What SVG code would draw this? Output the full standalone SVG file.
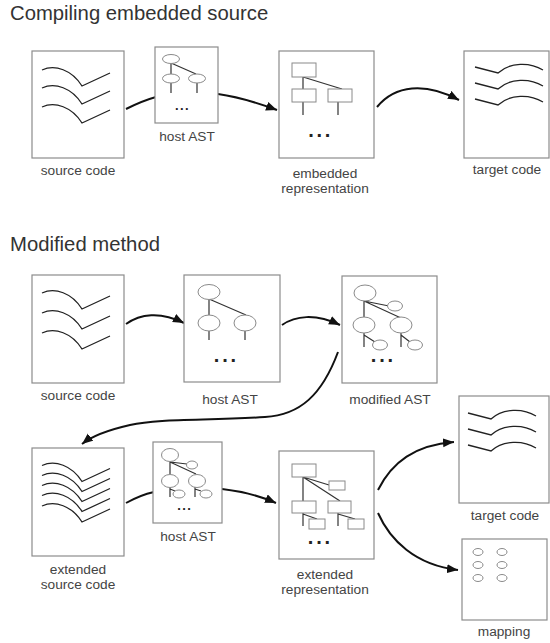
<svg xmlns="http://www.w3.org/2000/svg" xmlns:xlink="http://www.w3.org/1999/xlink" width="550" height="643" viewBox="0 0 550 643">
  <style>
    .title { font-family: "Liberation Sans", Arial, sans-serif; font-size: 20.3px; fill: #333; }
    .lbl { font-family: "Liberation Sans", Arial, sans-serif; font-size: 13.7px; fill: #444; text-anchor: middle; }
    .box { fill: #fff; stroke: #8c8c8c; stroke-width: 1.2; }
    .code { fill: none; stroke: #222; stroke-width: 1.3; }
    .tl { fill: none; stroke: #333; stroke-width: 1.2; }
    .nd { fill: #fff; stroke: #8a8a8a; stroke-width: 1; }
    .edge { fill: none; stroke: #111; stroke-width: 2; }
    .head { marker-end: url(#arrow); }
    .dots { font-family: "Liberation Sans", Arial, sans-serif; font-weight: bold; fill: #222; text-anchor: middle; }
    .big { font-size: 20px; letter-spacing: 2.8px; }
    .small { font-size: 13px; letter-spacing: 1.4px; }
  </style>
  <defs>
    <marker id="arrow" markerUnits="userSpaceOnUse" markerWidth="12" markerHeight="10" refX="11" refY="4.5" orient="auto">
      <path d="M0,0 L11,4.5 L0,9 z" fill="#111"/>
    </marker>
    <!-- one line of source text: arc, dip, rising tail -->
    <path id="srcLine" class="code" d="M0,0 C13,-6 30,0 40,16 L68,3"/>
    <!-- one line of generated text: falling start, arc -->
    <path id="tgtLine" class="code" d="M0,0 L23,6 C35,-5 55,-5 68,3"/>
  </defs>
  <rect width="550" height="643" fill="#fff"/>

  <text class="title" x="10" y="19.5">Compiling embedded source</text>
  <text class="title" x="10" y="251">Modified method</text>

  <!-- connectors -->
  <g id="connectors">
    <path class="edge" d="M126,109 C136,104 145,100 156,97"/>
    <path class="edge head" d="M218,94 C240,97 258,103 277,110"/>
    <path class="edge head" d="M377,107 C395,85 425,82 459,100"/>

    <path class="edge head" d="M126,324 C140,314 160,311 184,323"/>
    <path class="edge head" d="M282,325 C295,316 315,313 340,325"/>
    <path class="edge head" d="M338,352 C322,395 300,415 265,417 C210,421 160,418 130,425 C108,430 92,436 82,444"/>

    <path class="edge" d="M126,503 C135,498 145,494 154,492"/>
    <path class="edge head" d="M222,489 C240,491 258,495 276,503"/>
    <path class="edge head" d="M378,490 C392,462 415,445 454,442"/>
    <path class="edge head" d="M378,513 C390,540 415,565 458,570"/>
  </g>

  <!-- section 1 -->
  <g id="src1">
    <rect class="box" x="32" y="51" width="92" height="107"/>
    <use xlink:href="#srcLine" x="42" y="70"/>
    <use xlink:href="#srcLine" x="42" y="88"/>
    <use xlink:href="#srcLine" x="42" y="107"/>
    <text class="lbl" x="78" y="175">source code</text>
  </g>

  <g id="ast1">
    <rect class="box" x="155" y="47" width="63" height="76"/>
    <path class="tl" d="M171,63 L171,74 M171,63 L196,74 M171,83 L171,93 M197,83 L197,93"/>
    <ellipse class="nd" cx="171" cy="59" rx="8.5" ry="4.5"/>
    <ellipse class="nd" cx="171" cy="78.5" rx="8.5" ry="4.5"/>
    <ellipse class="nd" cx="197" cy="78.5" rx="8.5" ry="4.5"/>
    <text class="dots small" x="182.4" y="110">...</text>
    <text class="lbl" x="187" y="141">host AST</text>
  </g>

  <g id="emb1">
    <rect class="box" x="279" y="51" width="95" height="107"/>
    <path class="tl" d="M303,77 L303,89 M303,77 L342,89 M303,102 L303,115 M338,102 L338,115"/>
    <rect class="nd" x="292" y="63" width="24" height="14"/>
    <rect class="nd" x="292" y="89" width="24" height="13"/>
    <rect class="nd" x="328" y="89" width="24" height="13"/>
    <text class="dots big" x="320.7" y="136.5">...</text>
    <text class="lbl" x="325" y="178">embedded</text>
    <text class="lbl" x="325" y="192.5">representation</text>
  </g>

  <g id="tgt1">
    <rect class="box" x="464" y="51" width="85" height="107"/>
    <use xlink:href="#tgtLine" x="475" y="67"/>
    <use xlink:href="#tgtLine" x="475" y="83"/>
    <use xlink:href="#tgtLine" x="475" y="99"/>
    <text class="lbl" x="507" y="174">target code</text>
  </g>

  <!-- section 2 -->
  <g id="src2">
    <rect class="box" x="32" y="275" width="92" height="108"/>
    <use xlink:href="#srcLine" x="42" y="293"/>
    <use xlink:href="#srcLine" x="42" y="313"/>
    <use xlink:href="#srcLine" x="42" y="333"/>
    <text class="lbl" x="78" y="400">source code</text>
  </g>

  <g id="ast2">
    <rect class="box" x="184" y="275" width="96" height="107"/>
    <path class="tl" d="M209,299 L209,315 M209,299 L246,315 M209,331 L209,340 M245,331 L245,340"/>
    <ellipse class="nd" cx="209" cy="292" rx="11" ry="7.5"/>
    <ellipse class="nd" cx="209" cy="323" rx="11" ry="8"/>
    <ellipse class="nd" cx="245" cy="323" rx="11" ry="8"/>
    <text class="dots big" x="226.4" y="361.5">...</text>
    <text class="lbl" x="230" y="404">host AST</text>
  </g>

  <g id="mod">
    <rect class="box" x="342" y="276" width="95" height="107"/>
    <path class="tl" d="M364,301 L364,317 M364,301 L389,306 M364,301 L401,318 M364,333 L364,347 M364,335 L375,342 M401,333 L401,347 M401,335 L410,342"/>
    <ellipse class="nd" cx="365" cy="293" rx="11" ry="8"/>
    <ellipse class="nd" cx="395" cy="306" rx="7.5" ry="5"/>
    <ellipse class="nd" cx="364" cy="325" rx="11" ry="8"/>
    <ellipse class="nd" cx="401" cy="325" rx="11" ry="8"/>
    <ellipse class="nd" cx="380" cy="345" rx="7.5" ry="5"/>
    <ellipse class="nd" cx="415" cy="345" rx="7.5" ry="5"/>
    <text class="dots big" x="383.4" y="361.5">...</text>
    <text class="lbl" x="390" y="404">modified AST</text>
  </g>

  <g id="extsrc">
    <rect class="box" x="32" y="448" width="92" height="108"/>
    <use xlink:href="#srcLine" x="42" y="465.5"/>
    <use xlink:href="#srcLine" x="42" y="475.5"/>
    <use xlink:href="#srcLine" x="42" y="485.5"/>
    <use xlink:href="#srcLine" x="42" y="495.5"/>
    <use xlink:href="#srcLine" x="42" y="506"/>
    <text class="lbl" x="78" y="574">extended</text>
    <text class="lbl" x="78" y="589">source code</text>
  </g>

  <g id="ast3">
    <rect class="box" x="153" y="442" width="69" height="81"/>
    <path class="tl" d="M170,462 L170,474 M170,462 L187,464 M170,462 L196,474 M170,487 L170,497 M170,489 L175,491 M195,487 L195,497 M195,489 L201,491"/>
    <ellipse class="nd" cx="170" cy="455" rx="8.5" ry="6.5"/>
    <ellipse class="nd" cx="192" cy="465" rx="5.5" ry="4"/>
    <ellipse class="nd" cx="170" cy="481" rx="8.5" ry="6.5"/>
    <ellipse class="nd" cx="197" cy="481" rx="8.5" ry="6.5"/>
    <ellipse class="nd" cx="179" cy="494" rx="6" ry="4"/>
    <ellipse class="nd" cx="206" cy="494" rx="6" ry="4"/>
    <text class="dots small" x="184.7" y="510">...</text>
    <text class="lbl" x="188" y="541">host AST</text>
  </g>

  <g id="extrep">
    <rect class="box" x="279" y="451" width="95" height="108"/>
    <path class="tl" d="M303,477 L303,501 M303,477 L329,485 M303,477 L340,501 M303,513 L303,526 M303,514 L317,519 M338,513 L338,526 M338,514 L355,519"/>
    <rect class="nd" x="292" y="464" width="24" height="13"/>
    <rect class="nd" x="329" y="481" width="16" height="9"/>
    <rect class="nd" x="292" y="501" width="24" height="12"/>
    <rect class="nd" x="328" y="501" width="23" height="12"/>
    <rect class="nd" x="309" y="519" width="16" height="10"/>
    <rect class="nd" x="348" y="519" width="16" height="10"/>
    <text class="dots big" x="320.4" y="544">...</text>
    <text class="lbl" x="325" y="579">extended</text>
    <text class="lbl" x="325" y="593.5">representation</text>
  </g>

  <g id="tgt2">
    <rect class="box" x="459" y="396" width="90" height="107"/>
    <use xlink:href="#tgtLine" x="468" y="413"/>
    <use xlink:href="#tgtLine" x="468" y="429"/>
    <use xlink:href="#tgtLine" x="468" y="445"/>
    <text class="lbl" x="505" y="520">target code</text>
  </g>

  <g id="map">
    <rect class="box" x="462" y="539" width="85" height="81"/>
    <ellipse class="nd" cx="478" cy="552" rx="5" ry="3.5"/>
    <ellipse class="nd" cx="502" cy="552" rx="5" ry="3.5"/>
    <ellipse class="nd" cx="478" cy="565" rx="5" ry="3.5"/>
    <ellipse class="nd" cx="502" cy="565" rx="5" ry="3.5"/>
    <ellipse class="nd" cx="478" cy="578" rx="5" ry="3.5"/>
    <ellipse class="nd" cx="502" cy="578" rx="5" ry="3.5"/>
    <text class="lbl" x="504" y="636">mapping</text>
  </g>
</svg>
